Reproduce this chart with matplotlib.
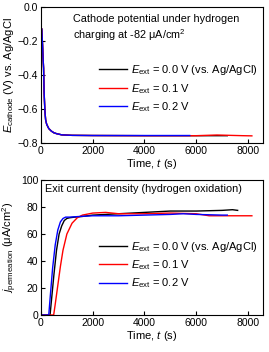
import matplotlib
matplotlib.use("Agg")
import matplotlib.pyplot as plt
import numpy as np

plt.rcParams['font.family'] = ['Liberation Sans', 'DejaVu Sans']
plt.rcParams['mathtext.fontset'] = 'custom'
plt.rcParams['mathtext.it'] = 'Liberation Sans:italic'
plt.rcParams['mathtext.rm'] = 'Liberation Sans'

## cathode potential (V vs Ag/AgCl)
t_cat = [30, 45, 60, 80, 100, 120, 150, 180, 220, 300, 400, 500, 600, 800, 1200, 2000]
e_cat = [-0.13, -0.18, -0.22, -0.30, -0.36, -0.50, -0.61, -0.665, -0.69, -0.715, -0.73, -0.74, -0.745, -0.752, -0.755, -0.756]
t_end0, e_end0 = [4000, 6000, 7200], [-0.757, -0.757, -0.757]
t_end1, e_end1 = [4000, 6000, 6800, 7800, 8150], [-0.757, -0.757, -0.753, -0.757, -0.758]
t_end2, e_end2 = [4000, 5750], [-0.756, -0.756]

## exit current density (uA/cm2)
t0 = [0, 350, 400, 500, 600, 700, 800, 900, 1000, 1100, 1300, 1600, 2000, 3000, 4000, 5000, 6000, 7000, 7400, 7600]
j0 = [0, 0, 10, 30, 48, 60, 66, 70, 71.5, 72, 72.5, 73, 74, 75, 76, 77, 77, 77.5, 78, 77.5]
t1 = [0, 490, 550, 650, 750, 850, 1000, 1200, 1400, 1600, 2000, 2500, 3000, 4000, 5000, 6000, 6500, 7000, 8150]
j1 = [0, 0, 8, 22, 36, 48, 60, 68, 72, 74, 75.5, 76, 75, 75, 75.5, 75, 73.5, 73.5, 73.5]
t2 = [0, 300, 350, 450, 550, 650, 750, 850, 950, 1100, 1500, 2000, 3000, 4000, 5000, 5500, 6000, 7000, 7200]
j2 = [0, 0, 12, 35, 52, 63, 69, 71.5, 72.5, 72.5, 73, 73.5, 73.5, 74, 74.5, 75, 74.5, 74, 74]

labels = [r'$E_{\mathrm{ext}}$ = 0.0 V (vs. Ag/AgCl)', r'$E_{\mathrm{ext}}$ = 0.1 V', r'$E_{\mathrm{ext}}$ = 0.2 V']
colors = ['black', 'red', 'blue']

fig = plt.figure(figsize=(2.69, 3.52), dpi=100)
ax1 = fig.add_axes([41/269, 1 - 143/352, 222/269, 136/352])
ax2 = fig.add_axes([41/269, 1 - 315/352, 222/269, 135/352])

ax1.plot(t_cat + t_end0, e_cat + e_end0, color='black', lw=1.0, label=labels[0])
ax1.plot(t_cat + t_end1, e_cat + e_end1, color='red', lw=1.0, label=labels[1])
ax1.plot(t_cat + t_end2, e_cat + e_end2, color='blue', lw=1.0, label=labels[2])
ax1.set_ylim(-0.8, 0.0)
ax1.set_yticks([-0.8, -0.6, -0.4, -0.2, 0.0])
ax1.set_ylabel(r'$E_{\mathrm{cathode}}$ (V) vs. Ag/AgCl', fontsize=8, labelpad=1)
ax1.text(0.145, 0.95, 'Cathode potential under hydrogen\ncharging at -82 \u03bcA/cm$^2$',
         transform=ax1.transAxes, fontsize=7.8, va='top', ha='left', linespacing=1.3)

ax2.plot(t0, j0, color='black', lw=1.0, label=labels[0])
ax2.plot(t1, j1, color='red', lw=1.0, label=labels[1])
ax2.plot(t2, j2, color='blue', lw=1.0, label=labels[2])
ax2.set_ylim(0, 100)
ax2.set_yticks([0, 20, 40, 60, 80, 100])
ax2.set_ylabel('$j_{\\mathrm{permeation}}$ (\u03bcA/cm$^2$)', fontsize=8, labelpad=1)
ax2.text(0.02, 0.97, 'Exit current density (hydrogen oxidation)',
         transform=ax2.transAxes, fontsize=7.8, va='top', ha='left')

for ax, yc in ((ax1, 0.40), (ax2, 0.37)):
    ax.set_xlim(0, 8580)
    ax.set_xticks([0, 2000, 4000, 6000, 8000])
    ax.set_xlabel(r'Time, $t$ (s)', fontsize=8, labelpad=1)
    ax.tick_params(direction='in', labelsize=7.5, length=3, pad=2)
    ax.legend(loc='center right', bbox_to_anchor=(1.0, yc), frameon=False, fontsize=8,
              handlelength=2.6, labelspacing=0.4, borderaxespad=0.1, handletextpad=0.3)

fig.savefig('out.png', dpi=100)
